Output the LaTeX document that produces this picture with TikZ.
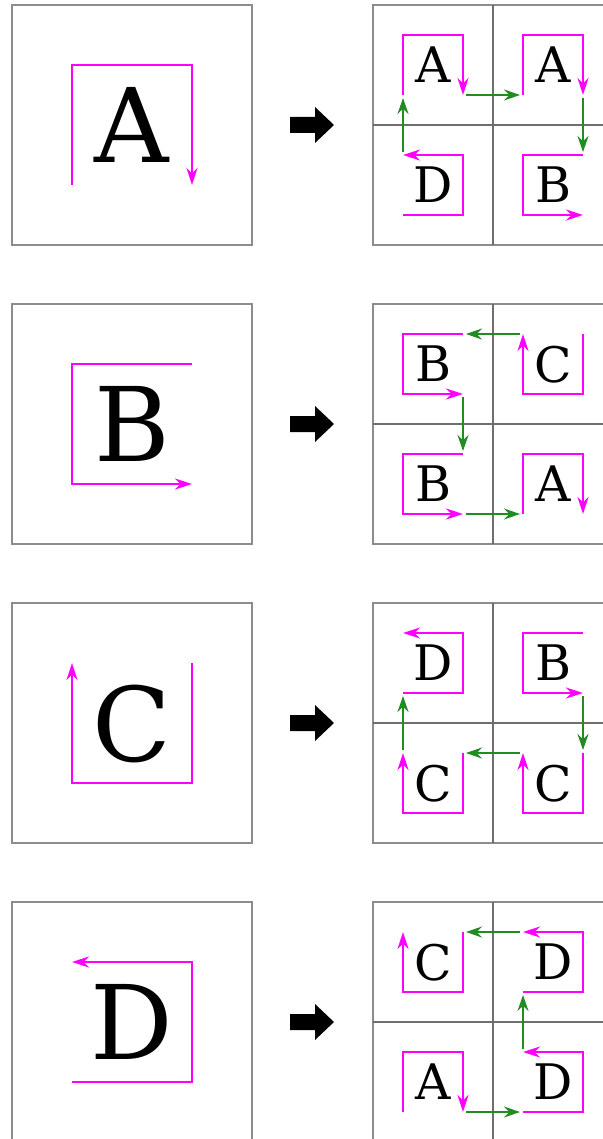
\documentclass[tikz,border=0pt]{standalone}
\usepackage{fontspec}
\setmainfont{DejaVu Serif}
\usetikzlibrary{arrows.meta}
\definecolor{pinkc}{RGB}{255,0,255}
\definecolor{greenc}{RGB}{34,139,34}
\definecolor{framec}{RGB}{140,140,140}
\definecolor{gridc}{RGB}{110,110,110}
\tikzset{
  pk/.style={draw=pinkc, line width=2pt, -{Stealth[length=17pt,width=11pt]}},
  gr/.style={draw=greenc, line width=2pt, -{Stealth[length=16pt,width=11pt]}, shorten <=3pt, shorten >=3pt},
  frame/.style={draw=framec, line width=1.7pt},
  gridline/.style={draw=gridc, line width=1.1pt},
  letter/.style={inner sep=0pt, text depth=0pt, anchor=center},
}
\newcommand\hpathA{\draw[pk] (60,180)--(60,60)--(180,60)--(180,180);}
\newcommand\hpathB{\draw[pk] (180,60)--(60,60)--(60,180)--(180,180);}
\newcommand\hpathC{\draw[pk] (180,60)--(180,180)--(60,180)--(60,60);}
\newcommand\hpathD{\draw[pk] (60,180)--(180,180)--(180,60)--(60,60);}
% #1 letter, #2 x, #3 y, #4 scale, #5 font size
\newcommand\hilb[5]{%
  \begin{scope}[shift={(#2,#3)}, scale=#4]
    \csname hpath#1\endcsname
    \node[letter, font=\fontsize{#5}{#5}\selectfont] (L#1#2#3) at (120,120) {#1};
  \end{scope}}
% #1 letter, #2 y offset, #3..#6 sub letters TL TR BL BR
\newcommand\hrow[6]{%
  \draw[frame] (12,#2) rectangle (252,#2+240);
  \hilb{#1}{12}{#2}{1}{103}
  \fill[black] (290,#2+112) -- (315,#2+112) -- (315,#2+102) -- (334,#2+120)
     -- (315,#2+138) -- (315,#2+128) -- (290,#2+128) -- cycle;
  \draw[frame] (373,#2) rectangle (613,#2+240);
  \draw[gridline] (493,#2) -- (493,#2+240);
  \draw[gridline] (373,#2+120) -- (613,#2+120);
  \hilb{#3}{373}{#2}{0.5}{49}
  \hilb{#4}{493}{#2}{0.5}{49}
  \hilb{#5}{373}{#2+120}{0.5}{49}
  \hilb{#6}{493}{#2+120}{0.5}{49}
}
\begin{document}
\begin{tikzpicture}[x=1pt, y=-1pt]
\useasboundingbox (0,0) rectangle (602,1139);
% row A
\hrow{A}{5}{A}{A}{D}{B}
\begin{scope}[shift={(373,5)}]
  \coordinate (a1) at (30,150); \coordinate (a2) at (30,90);
  \coordinate (a3) at (90,90);  \coordinate (a4) at (150,90);
  \coordinate (a5) at (210,90); \coordinate (a6) at (210,150);
  \draw[gr] (a1) -- (a2);
  \draw[gr] (a3) -- (a4);
  \draw[gr] (a5) -- (a6);
\end{scope}
% row B
\hrow{B}{304}{B}{C}{B}{A}
\begin{scope}[shift={(373,304)}]
  \coordinate (b1) at (150,30); \coordinate (b2) at (90,30);
  \coordinate (b3) at (90,90);  \coordinate (b4) at (90,150);
  \coordinate (b5) at (90,210); \coordinate (b6) at (150,210);
  \draw[gr] (b1) -- (b2);
  \draw[gr] (b3) -- (b4);
  \draw[gr] (b5) -- (b6);
\end{scope}
% row C
\hrow{C}{603}{D}{B}{C}{C}
\begin{scope}[shift={(373,603)}]
  \coordinate (c1) at (210,90); \coordinate (c2) at (210,150);
  \coordinate (c3) at (150,150); \coordinate (c4) at (90,150);
  \coordinate (c5) at (30,150); \coordinate (c6) at (30,90);
  \draw[gr] (c1) -- (c2);
  \draw[gr] (c3) -- (c4);
  \draw[gr] (c5) -- (c6);
\end{scope}
% row D
\hrow{D}{902}{C}{D}{A}{D}
\begin{scope}[shift={(373,902)}]
  \coordinate (d1) at (90,210); \coordinate (d2) at (150,210);
  \coordinate (d3) at (150,150); \coordinate (d4) at (150,90);
  \coordinate (d5) at (150,30); \coordinate (d6) at (90,30);
  \draw[gr] (d1) -- (d2);
  \draw[gr] (d3) -- (d4);
  \draw[gr] (d5) -- (d6);
\end{scope}
\end{tikzpicture}
\end{document}
